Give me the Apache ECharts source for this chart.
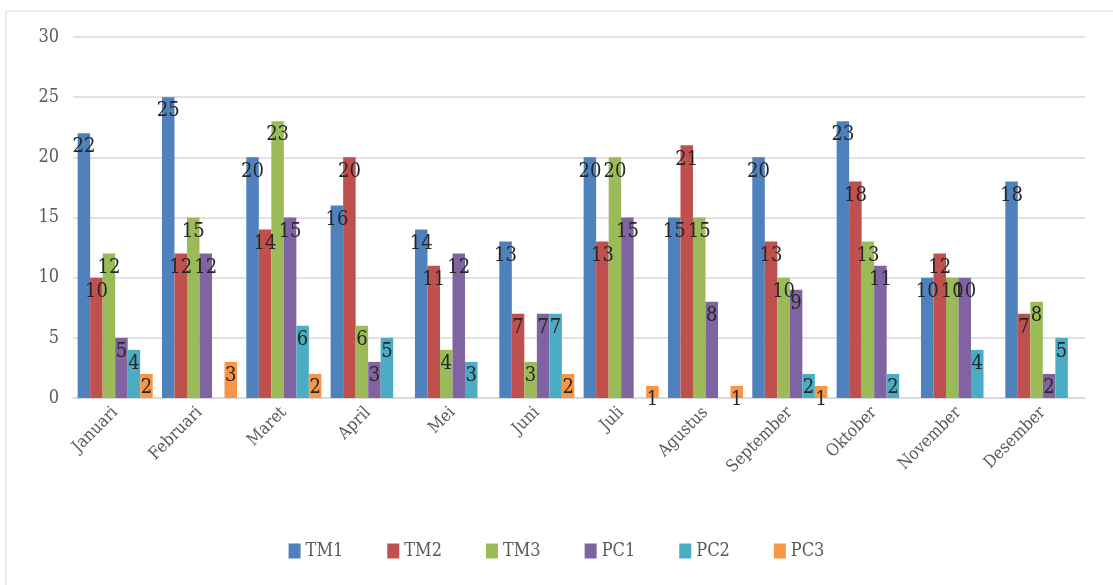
<!DOCTYPE html>
<html>
<head>
<meta charset="utf-8">
<script src="https://cdn.jsdelivr.net/npm/echarts@6/dist/echarts.min.js"></script>
<style>html,body{margin:0;padding:0;background:#fff}#c{width:1113px;height:585px}</style>
</head>
<body>
<div id="c"></div>
<script>
const categories = ['Januari','Februari','Maret','April','Mei','Juni','Juli','Agustus','September','Oktober','November','Desember'];
const seriesNames = ['TM1','TM2','TM3','PC1','PC2','PC3'];
const TM1 = [22,25,20,16,14,13,20,15,20,23,10,18];
const TM2 = [10,12,14,20,11,7,13,21,13,18,12,7];
const TM3 = [12,15,23,6,4,3,20,15,10,13,10,8];
const PC1 = [5,12,15,3,12,7,15,8,9,11,10,2];
const PC2 = [4,null,6,5,3,7,null,null,2,2,4,5];
const PC3 = [2,3,2,null,null,2,1,1,1,null,null,null];
const yTicks = [0,5,10,15,20,25,30];
const colors = ['#4F81BD','#C0504D','#9BBB59','#8064A2','#4BACC6','#F79646'];
const values = [TM1,TM2,TM3,PC1,PC2,PC3];

const font = '"DejaVu Serif Condensed","Liberation Serif",serif';
const chart = echarts.init(document.getElementById('c'));
chart.setOption({
  animation:false,
  color: colors,
  graphic:[{type:'rect',shape:{x:6,y:11,width:1120,height:590},style:{fill:'none',stroke:'#d9d9d9',lineWidth:1},silent:true}],
  grid:{left:73,right:28,top:37,bottom:187},
  legend:{
    bottom:20,left:'center',itemWidth:12,itemHeight:15,itemGap:44,
    icon:'rect',
    textStyle:{fontFamily:font,fontSize:18,color:'#595959'},
    data:seriesNames
  },
  xAxis:{
    type:'category',data:categories,
    axisLine:{lineStyle:{color:'#d9d9d9',width:1.5}},
    axisTick:{show:false},
    axisLabel:{rotate:45,interval:0,fontFamily:font,fontSize:17,color:'#595959',margin:12}
  },
  yAxis:{
    type:'value',min:yTicks[0],max:yTicks[yTicks.length-1],interval:5,
    axisLine:{show:false},axisTick:{show:false},
    splitLine:{lineStyle:{color:'#e3e3e3',width:2}},
    axisLabel:{fontFamily:font,fontSize:18,color:'#595959',margin:14}
  },
  series: seriesNames.map((n,i)=>({
    name:n,type:'bar',data:values[i],
    barGap:'0%',barCategoryGap:'11%',
    label:{show:true,position:'insideTop',distance:4,fontFamily:font,fontSize:20,color:'#262626',
      formatter:p=>p.value==null?'':String(p.value)}
  }))
});
</script>
</body>
</html>
